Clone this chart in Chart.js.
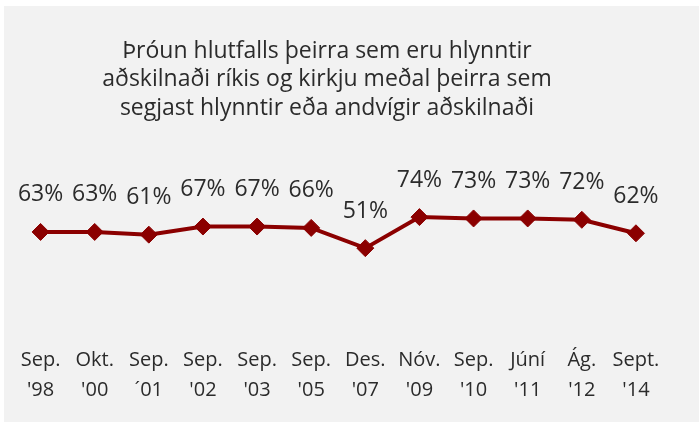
<!DOCTYPE html>
<html>
<head>
<meta charset="utf-8">
<script src="https://cdn.jsdelivr.net/npm/chart.js@4"></script>
<style>
    html, body { margin: 0; padding: 0; background: #fff; }
    #wrap { position: absolute; left: 4px; top: 6px; width: 695px; height: 416px; background: #f2f2f2; }
</style>
</head>
<body>
<div id="wrap"><canvas id="trendChart"></canvas></div>
<script>
// --- Data ---
const titleLines = [
    'Þróun hlutfalls þeirra sem eru hlynntir',
    'aðskilnaði ríkis og kirkju meðal þeirra sem',
    'segjast hlynntir eða andvígir aðskilnaði'
];
const periods = [
    ['Sep.', "'98"], ['Okt.', "'00"], ['Sep.', '´01'], ['Sep.', "'02"],
    ['Sep.', "'03"], ['Sep.', "'05"], ['Des.', "'07"], ['Nóv.', "'09"],
    ['Sep.', "'10"], ['Júní', "'11"], ['Ág.', "'12"], ['Sept.', "'14"]
];
const sharePct = [63, 63, 61, 67, 67, 66, 51, 74, 73, 73, 72, 62];

const lineColor = '#8b0000';
const textColor = '#2b2b2b';

Chart.defaults.font.family = '"Open Sans", sans-serif';

// data labels + title drawn on the canvas (no datalabels plugin offline)
const textPlugin = {
    id: 'textPlugin',
    afterDatasetsDraw(chart) {
        const ctx = chart.ctx;
        const meta = chart.getDatasetMeta(0);
        ctx.save();
        ctx.fillStyle = textColor;
        ctx.textAlign = 'center';
        ctx.textBaseline = 'middle';
        ctx.font = '23px "Open Sans"';
        meta.data.forEach((pt, i) => {
            ctx.fillText(sharePct[i] + '%', pt.x, pt.y - 37);
        });
        titleLines.forEach((line, i) => {
            ctx.fillText(line, 323, 45 + i * 28.5);
        });
        ctx.restore();
    }
};

new Chart(document.getElementById('trendChart'), {
    type: 'line',
    data: {
        labels: periods,
        datasets: [{
            data: sharePct,
            borderColor: lineColor,
            backgroundColor: lineColor,
            borderWidth: 4,
            pointStyle: 'rectRot',
            pointRadius: 8.5,
            pointBorderWidth: 1,
            tension: 0
        }]
    },
    options: {
        responsive: true,
        maintainAspectRatio: false,
        animation: false,
        layout: { padding: { top: 176, left: 6, right: 36, bottom: 17 } },
        plugins: {
            legend: { display: false },
            tooltip: { enabled: false },
            title: { display: false }
        },
        scales: {
            x: {
                offset: true,
                grid: { display: false, drawTicks: false },
                border: { display: false },
                ticks: {
                    color: textColor,
                    font: { size: 20, lineHeight: 1.475 },
                    padding: 0,
                    maxRotation: 0,
                    autoSkip: false
                }
            },
            // hidden; range stretched below 0 to leave the gap above the labels
            y: { display: false, min: -21.5, max: 100 }
        }
    },
    plugins: [textPlugin]
});
</script>
</body>
</html>
